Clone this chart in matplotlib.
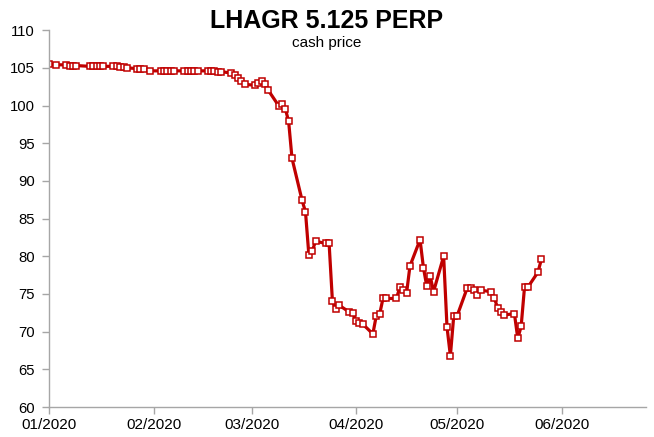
import pandas as pd
import matplotlib.pyplot as plt
import matplotlib.dates as mdates

plt.rcParams['font.family'] = ['Liberation Sans', 'DejaVu Sans']

# cash price of the LHAGR 5.125 PERP
dates = [
    '2020-01-01', '2020-01-03', '2020-01-06', '2020-01-07', '2020-01-08', '2020-01-09',
    '2020-01-13', '2020-01-14', '2020-01-15', '2020-01-16', '2020-01-17',
    '2020-01-20', '2020-01-21', '2020-01-22', '2020-01-23', '2020-01-24',
    '2020-01-27', '2020-01-28', '2020-01-29', '2020-01-31',
    '2020-02-03', '2020-02-04', '2020-02-05', '2020-02-06', '2020-02-07',
    '2020-02-10', '2020-02-11', '2020-02-12', '2020-02-13', '2020-02-14',
    '2020-02-17', '2020-02-18', '2020-02-19', '2020-02-20', '2020-02-21',
    '2020-02-24', '2020-02-25', '2020-02-26', '2020-02-27', '2020-02-28',
    '2020-03-02', '2020-03-03', '2020-03-04', '2020-03-05', '2020-03-06',
    '2020-03-09', '2020-03-10', '2020-03-11', '2020-03-12', '2020-03-13',
    '2020-03-16', '2020-03-17', '2020-03-18', '2020-03-19', '2020-03-20',
    '2020-03-23', '2020-03-24', '2020-03-25', '2020-03-26', '2020-03-27',
    '2020-03-30', '2020-03-31', '2020-04-01', '2020-04-02', '2020-04-03',
    '2020-04-06', '2020-04-07', '2020-04-08', '2020-04-09', '2020-04-10',
    '2020-04-13', '2020-04-14', '2020-04-15', '2020-04-16', '2020-04-17',
    '2020-04-20', '2020-04-21', '2020-04-22', '2020-04-23', '2020-04-24',
    '2020-04-27', '2020-04-28', '2020-04-29', '2020-04-30', '2020-05-01',
    '2020-05-04', '2020-05-05', '2020-05-06', '2020-05-07', '2020-05-08',
    '2020-05-11', '2020-05-12', '2020-05-13', '2020-05-14', '2020-05-15',
    '2020-05-18', '2020-05-19', '2020-05-20', '2020-05-21', '2020-05-22',
    '2020-05-25', '2020-05-26',
]
prices = [
    105.5, 105.4, 105.4, 105.3, 105.3, 105.3,
    105.2, 105.2, 105.2, 105.2, 105.2,
    105.2, 105.2, 105.1, 105.1, 105.0,
    104.9, 104.8, 104.8, 104.6,
    104.6, 104.6, 104.6, 104.6, 104.6,
    104.6, 104.6, 104.6, 104.6, 104.6,
    104.6, 104.6, 104.6, 104.5, 104.5,
    104.3, 104.1, 103.7, 103.3, 102.8,
    102.7, 103.0, 103.2, 102.9, 102.0,
    100.0, 100.2, 99.6, 97.9, 93.0,
    87.4, 85.9, 80.2, 80.7, 82.0,
    81.7, 81.8, 74.0, 73.0, 73.5,
    72.6, 72.5, 71.4, 71.2, 71.0,
    69.7, 72.1, 72.3, 74.4, 74.4,
    74.4, 75.9, 75.5, 75.1, 78.7,
    82.2, 78.5, 76.0, 77.4, 75.3,
    80.0, 70.6, 66.8, 72.1, 72.1,
    75.8, 75.85, 75.5, 74.9, 75.5,
    75.3, 74.5, 73.2, 72.6, 72.2,
    72.4, 69.1, 70.7, 75.9, 75.9,
    77.9, 79.6,
]

month_ticks = ['2020-01-01', '2020-02-01', '2020-03-01', '2020-04-01', '2020-05-01', '2020-06-01']
x_range = ('2020-01-01', '2020-06-26')
y_ticks = [60, 65, 70, 75, 80, 85, 90, 95, 100, 105, 110]

red = '#C00000'
grey = '#A6A6A6'

fig = plt.figure(figsize=(6.54, 4.37), dpi=100)
ax = fig.add_axes([0.0755, 0.0686, 0.912, 0.8624])

ax.plot(pd.to_datetime(dates), prices, color=red, lw=2.3,
        marker='s', ms=4.0, mfc='white', mec=red, mew=1.1)

ax.set_xlim(pd.to_datetime(x_range[0]), pd.to_datetime(x_range[1]))
ax.set_ylim(60, 110)
ax.set_yticks(y_ticks)
ax.set_xticks(pd.to_datetime(month_ticks))
ax.xaxis.set_major_formatter(mdates.DateFormatter('%m/%Y'))

for side in ('top', 'right'):
    ax.spines[side].set_visible(False)
for side in ('left', 'bottom'):
    ax.spines[side].set_color(grey)
    ax.spines[side].set_linewidth(1.0)
ax.tick_params(axis='both', colors=grey, labelcolor='black',
               length=5, width=1.0, direction='out')
ax.tick_params(axis='y', labelsize=10.7, pad=5.5)
ax.tick_params(axis='x', labelsize=11, pad=3)

fig.text(0.5, 0.952, 'LHAGR 5.125 PERP', ha='center', va='center',
         fontsize=18, fontweight='bold')
fig.text(0.5, 0.902, 'cash price', ha='center', va='center', fontsize=11)

fig.savefig('out.png', dpi=100)
